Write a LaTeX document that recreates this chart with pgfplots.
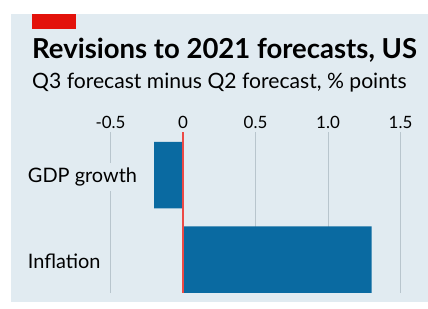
\documentclass[border=0pt]{standalone}
\usepackage{pgfplots}
\pgfplotsset{compat=1.18}
\usepackage{fontspec}
\setmainfont{Lato}
\definecolor{bg}{HTML}{E1EBF1}
\definecolor{econred}{HTML}{E3120B}
\definecolor{zerored}{HTML}{EC4A46}
\definecolor{barblue}{HTML}{0A6AA1}
\definecolor{gridc}{HTML}{B8C5CD}
\begin{document}
\begin{tikzpicture}[x=1bp,y=1bp]
\fill[white] (0,0) rectangle (428,-309);
\fill[bg] (11,-14) rectangle (428,-302);
\fill[econred] (32,-14) rectangle (76,-29);
\node[anchor=base west, inner sep=0, font=\fontsize{27.6}{27.6}\selectfont\bfseries] at (32,-58) {Revisions to 2021 forecasts, US};
\node[anchor=base west, inner sep=0, font=\fontsize{21.2}{21.2}\selectfont] at (32,-88) {Q3 forecast minus Q2 forecast, \% points};
\begin{axis}[at={(32bp,-293bp)}, anchor=south west, scale only axis,
  width=388bp, height=161bp,
  xmin=-1.0414, xmax=1.6345, ymin=-0.509, ymax=1.396, y dir=reverse,
  xbar, bar width=0.787,
  axis line style={draw=none}, tick style={draw=none},
  xtick={-0.5,0,0.5,1,1.5}, xticklabels={-0.5,0,0.5,1.0,1.5}, xticklabel pos=upper,
  ytick={0,1}, yticklabels={GDP growth, Inflation},
  yticklabel style={anchor=west, inner xsep=0pt, inner ysep=5bp, fill=bg, font=\fontsize{20}{20}\selectfont, yshift=-2bp},
  xticklabel style={font=\fontsize{17}{17}\selectfont},
  xmajorgrids, grid style={gridc, line width=1bp},
  /pgf/number format/assume math mode=true,
  clip=false]
\addplot[fill=barblue, draw=none] coordinates {(-0.2,0) (1.3,1)};
\draw[zerored, line width=1.3bp] (axis cs:0,-0.509) -- (axis cs:0,1.396);
\end{axis}
\end{tikzpicture}
\end{document}
